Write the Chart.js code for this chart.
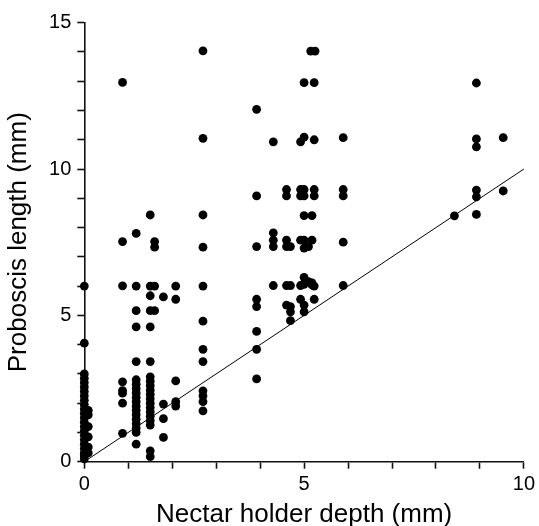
<!DOCTYPE html>
<html><head><meta charset="utf-8">
<script src="https://cdn.jsdelivr.net/npm/chart.js@4/dist/chart.umd.min.js"></script>
<style>html,body{margin:0;padding:0;background:#fff;}canvas{display:block;}</style>
</head><body>
<canvas id="c" width="539" height="526"></canvas>
<script>
// Nectar holder depth (mm) for each observation
const depth = [
  0,0,0,0,0,0,0,0,0,0,0,0,0,0,0,0,0,0,0,0,0,0,0,
  0.09,0.09,0.09,0.09,0.09,0.09,
  0.87,0.87,0.87,0.87,0.87,0.87,0.87,0.87,
  1.18,1.18,1.18,1.18,1.18,1.18,1.18,1.18,1.18,1.18,1.18,1.18,1.18,1.18,1.18,1.18,1.18,1.18,1.18,
  1.5,1.5,1.5,1.5,1.5,1.5,1.5,1.5,1.5,1.5,1.5,1.5,1.5,1.5,1.5,1.5,1.5,1.5,1.5,1.5,
  1.6,1.6,1.6,1.6,
  1.8,1.8,1.8,1.8,
  2.08,2.08,2.08,2.08,2.08,
  2.7,2.7,2.7,2.7,2.7,2.7,2.7,2.7,2.7,2.7,2.7,2.7,
  3.92,3.92,3.92,3.92,3.92,3.92,3.92,3.92,
  4.3,4.3,4.3,4.3,4.3,
  4.6,4.6,4.6,4.6,4.6,4.6,
  4.69,4.69,4.69,4.69,4.69,
  4.92,4.92,4.92,4.92,4.92,4.92,
  5.0,5.0,5.0,5.0,5.0,5.0,5.0,5.0,5.0,5.0,5.0,
  5.1,5.1,
  5.15,5.18,5.18,5.18,5.18,
  5.25,5.23,5.23,5.23,5.23,5.23,5.23,
  5.89,5.89,5.89,5.89,5.89,
  8.42,
  8.92,8.92,8.92,8.92,8.92,8.92,
  9.53,9.53
];
// Proboscis length (mm) for each observation
const proboscis = [
  0.1,0.2,0.3,0.45,0.6,0.75,0.9,1.05,1.2,1.35,1.5,1.65,1.8,1.95,2.1,2.25,2.4,2.55,2.7,2.85,3.0,4.05,6.0,
  0.3,0.5,0.85,1.2,1.6,1.75,
  12.96,7.52,6.01,2.73,2.43,2.34,2.0,0.97,
  7.8,6.0,5.16,4.61,3.42,2.8,2.65,2.5,2.35,2.2,2.05,1.9,1.75,1.6,1.45,1.3,1.15,1.0,0.6,
  8.43,6.0,5.67,5.16,4.61,3.42,2.9,2.75,2.6,2.45,2.3,2.15,2.0,1.85,1.7,1.55,1.4,1.25,0.37,0.17,
  7.52,7.33,6.0,5.16,
  5.63,1.97,1.47,0.83,
  6.0,5.55,2.76,2.05,1.9,
  14.04,11.05,8.43,7.33,6.0,4.8,3.84,3.42,2.42,2.25,2.05,1.74,
  12.04,9.08,7.35,5.55,5.3,4.45,3.84,2.83,
  10.93,7.82,7.57,7.35,6.02,
  9.3,9.08,7.57,7.35,6.02,5.35,
  7.35,6.02,5.3,5.12,4.82,
  10.93,9.3,9.08,7.57,6.02,5.55,
  12.95,11.09,9.3,9.08,8.41,7.57,7.3,6.3,6.06,5.35,5.12,
  7.35,6.15,
  14.03,8.41,7.57,6.11,6.04,
  14.03,12.95,11.0,9.3,9.08,6.0,5.55,
  11.07,9.3,9.08,7.5,6.02,
  8.4,
  12.94,11.03,10.76,9.28,9.05,8.45,
  11.07,9.25
];
// 1:1 reference line
const lineX = [0, 10];
const lineY = [0, 10];
// axis ranges and labelled ticks
const xRange = [0, 10];
const yRange = [0, 15];
const labelEvery = 5;

const FONT = '"Liberation Sans", Arial, Helvetica, sans-serif';
const pts = depth.map((x, i) => ({x: x, y: proboscis[i]}));
const linePts = lineX.map((x, i) => ({x: x, y: lineY[i]}));

new Chart(document.getElementById('c'), {
  type: 'scatter',
  data: {
    datasets: [
      {type: 'line', data: linePts, borderColor: '#000', borderWidth: 1, pointRadius: 0, fill: false, clip: false},
      {data: pts, backgroundColor: '#000', borderWidth: 0, pointRadius: 4.4, clip: false}
    ]
  },
  options: {
    responsive: false,
    animation: false,
    devicePixelRatio: 1,
    layout: {padding: {top: 22.7, right: 12, left: 0, bottom: 0}},
    plugins: {legend: {display: false}, tooltip: {enabled: false}},
    scales: {
      x: {
        type: 'linear', min: xRange[0], max: xRange[1],
        afterFit: s => { s.height = 64.3; },
        border: {display: true, color: '#111', width: 1.6},
        grid: {drawOnChartArea: false, drawTicks: true, tickLength: 7, tickColor: '#111', tickWidth: 1.6},
        ticks: {stepSize: 1, autoSkip: false, maxRotation: 0, padding: 4, color: '#000',
          font: {family: FONT, size: 20},
          callback: v => (v % labelEvery === 0 ? String(v) : '')},
        title: {display: true, text: 'Nectar holder depth (mm)', color: '#000',
          font: {family: FONT, size: 26, lineHeight: 0.85}, padding: {top: 0, bottom: 0}}
      },
      y: {
        type: 'linear', min: yRange[0], max: yRange[1],
        afterFit: s => { s.width = 84.3; },
        border: {display: true, color: '#111', width: 1.6},
        grid: {drawOnChartArea: false, drawTicks: true, tickLength: 7, tickColor: '#111', tickWidth: 1.6},
        ticks: {stepSize: 1, autoSkip: false, padding: 6, color: '#000',
          font: {family: FONT, size: 20},
          callback: v => (v % labelEvery === 0 ? String(v) : '')},
        title: {display: true, text: 'Proboscis length (mm)', color: '#000',
          font: {family: FONT, size: 26, lineHeight: 0.85}, padding: {top: 8, bottom: 0}}
      }
    }
  }
});
</script>
</body></html>
